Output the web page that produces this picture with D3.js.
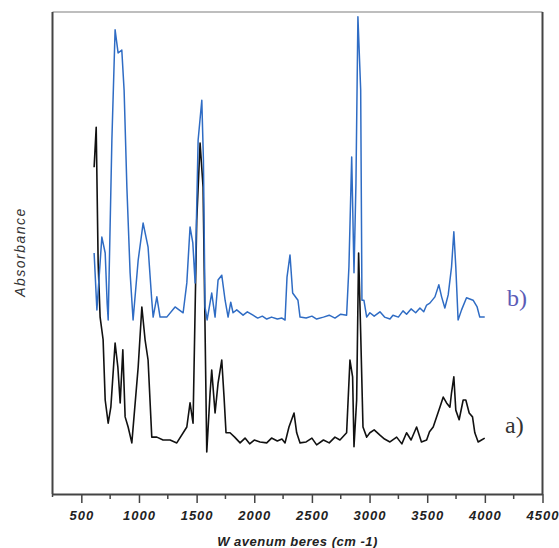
<!DOCTYPE html>
<html>
<head>
<meta charset="utf-8">
<script src="https://cdn.jsdelivr.net/npm/d3@7"></script>
<style>
  html, body { margin: 0; padding: 0; background: #fff; }
  svg { display: block; }
</style>
</head>
<body>
<svg id="chart" width="559" height="548"></svg>
<script>
// ---- Data ----
const xTickValues = [500, 1000, 1500, 2000, 2500, 3000, 3500, 4000, 4500];
const xMinorTicks = [250, 750, 1250, 1750, 2250, 2750, 3250, 3750, 4250];

// Spectrum b) (blue)
const bWavenumbers = [611, 635, 678, 707, 724, 733, 765, 793, 819, 851, 871, 895, 923, 949, 993, 1036, 1079, 1111, 1123, 1155, 1183, 1241, 1313, 1383, 1415, 1443, 1467, 1487, 1513, 1545, 1559, 1573, 1591, 1631, 1660, 1686, 1718, 1747, 1773, 1796, 1816, 1848, 1903, 1940, 1989, 2030, 2070, 2108, 2150, 2200, 2240, 2267, 2284, 2310, 2333, 2379, 2397, 2450, 2500, 2541, 2600, 2650, 2700, 2750, 2801, 2821, 2845, 2865, 2882, 2899, 2923, 2934, 2951, 2975, 3003, 3040, 3090, 3130, 3177, 3203, 3250, 3290, 3321, 3360, 3400, 3437, 3470, 3495, 3523, 3567, 3601, 3625, 3653, 3682, 3711, 3731, 3748, 3768, 3798, 3841, 3898, 3933, 3956, 3999];
const bAbsorbance = [0.500, 0.382, 0.533, 0.500, 0.396, 0.361, 0.734, 0.963, 0.915, 0.921, 0.838, 0.637, 0.459, 0.361, 0.485, 0.562, 0.512, 0.402, 0.367, 0.409, 0.367, 0.367, 0.388, 0.376, 0.438, 0.554, 0.521, 0.438, 0.734, 0.817, 0.693, 0.388, 0.361, 0.417, 0.367, 0.444, 0.454, 0.402, 0.367, 0.398, 0.376, 0.382, 0.371, 0.378, 0.371, 0.365, 0.369, 0.363, 0.367, 0.363, 0.365, 0.361, 0.450, 0.496, 0.417, 0.402, 0.367, 0.365, 0.369, 0.363, 0.367, 0.371, 0.365, 0.373, 0.371, 0.471, 0.699, 0.459, 0.645, 0.990, 0.838, 0.402, 0.402, 0.367, 0.376, 0.369, 0.378, 0.367, 0.363, 0.371, 0.367, 0.380, 0.373, 0.384, 0.376, 0.386, 0.378, 0.392, 0.396, 0.409, 0.434, 0.409, 0.386, 0.413, 0.471, 0.544, 0.471, 0.361, 0.382, 0.407, 0.402, 0.388, 0.367, 0.367];

// Spectrum a) (black)
const aWavenumbers = [611, 629, 646, 663, 689, 707, 733, 756, 793, 817, 837, 860, 880, 906, 938, 993, 1025, 1053, 1079, 1111, 1155, 1209, 1270, 1328, 1415, 1443, 1469, 1501, 1530, 1556, 1588, 1617, 1631, 1660, 1686, 1718, 1738, 1755, 1790, 1830, 1877, 1920, 1960, 2000, 2050, 2108, 2150, 2200, 2240, 2267, 2301, 2345, 2368, 2397, 2450, 2500, 2541, 2600, 2650, 2700, 2743, 2801, 2830, 2853, 2865, 2888, 2905, 2923, 2943, 2975, 3003, 3040, 3090, 3130, 3177, 3235, 3280, 3321, 3360, 3408, 3450, 3495, 3520, 3552, 3610, 3639, 3668, 3697, 3711, 3731, 3748, 3777, 3812, 3835, 3864, 3893, 3913, 3942, 3971, 3999];
const aAbsorbance = [0.678, 0.761, 0.479, 0.367, 0.320, 0.195, 0.147, 0.180, 0.313, 0.263, 0.189, 0.299, 0.160, 0.139, 0.106, 0.263, 0.388, 0.320, 0.278, 0.118, 0.118, 0.112, 0.112, 0.106, 0.139, 0.189, 0.147, 0.568, 0.728, 0.637, 0.087, 0.210, 0.257, 0.168, 0.230, 0.278, 0.201, 0.127, 0.127, 0.118, 0.106, 0.116, 0.104, 0.112, 0.108, 0.106, 0.116, 0.110, 0.114, 0.106, 0.139, 0.168, 0.127, 0.106, 0.108, 0.116, 0.102, 0.112, 0.106, 0.118, 0.112, 0.127, 0.278, 0.243, 0.098, 0.195, 0.500, 0.334, 0.139, 0.118, 0.127, 0.133, 0.122, 0.114, 0.108, 0.118, 0.104, 0.127, 0.112, 0.139, 0.108, 0.112, 0.129, 0.139, 0.180, 0.201, 0.189, 0.180, 0.210, 0.243, 0.174, 0.154, 0.195, 0.195, 0.168, 0.160, 0.127, 0.108, 0.112, 0.116];

const seriesLabels = ["b)", "a)"];

// ---- Layout ----
const svg = d3.select("#chart");
const mLeft = 52.5, mRight = 542.5, mTop = 12, mBottom = 494;

const x = d3.scaleLinear().domain([250, 4500]).range([mLeft, mRight]);
const y = d3.scaleLinear().domain([0, 1]).range([mBottom, mTop]);

// Frame: top (light), right (dark)
svg.append("line").attr("x1", mLeft).attr("x2", mRight).attr("y1", mTop).attr("y2", mTop)
  .attr("stroke", "#a8a8a8").attr("stroke-width", 1.5);
svg.append("line").attr("x1", mRight).attr("x2", mRight).attr("y1", mTop).attr("y2", mBottom)
  .attr("stroke", "#444").attr("stroke-width", 2);

// Left axis (no ticks)
svg.append("line").attr("x1", mLeft).attr("x2", mLeft).attr("y1", mTop).attr("y2", mBottom)
  .attr("stroke", "#444").attr("stroke-width", 2);

// Bottom axis
const xAxis = d3.axisBottom(x).tickValues(xTickValues).tickSize(9).tickSizeOuter(0)
  .tickFormat(d3.format("d"));
const gx = svg.append("g").attr("transform", `translate(0,${mBottom})`).call(xAxis);
gx.select(".domain").attr("stroke", "#444").attr("stroke-width", 2);
gx.selectAll(".tick line").attr("stroke", "#444").attr("stroke-width", 1.5);
gx.selectAll(".tick text")
  .attr("font-family", "Arial, 'Liberation Sans', sans-serif")
  .attr("font-size", 13).attr("font-style", "italic").attr("font-weight", 600)
  .attr("letter-spacing", "1px").attr("fill", "#222").attr("dy", "1.05em");

svg.append("g").selectAll("line").data(xMinorTicks).join("line")
  .attr("x1", d => x(d)).attr("x2", d => x(d))
  .attr("y1", mBottom).attr("y2", d => mBottom + (d === 250 ? 3 : 5))
  .attr("stroke", "#444").attr("stroke-width", 1.5);

// Axis titles
svg.append("text")
  .attr("x", (mLeft + mRight) / 2).attr("y", 546)
  .attr("text-anchor", "middle")
  .attr("font-family", "Arial, 'Liberation Sans', sans-serif")
  .attr("font-size", 13).attr("font-style", "italic").attr("font-weight", 600)
  .attr("letter-spacing", "0.5px").attr("fill", "#222")
  .text("W avenum beres (cm -1)");

svg.append("text")
  .attr("transform", "translate(25,252) rotate(-90)")
  .attr("text-anchor", "middle")
  .attr("font-family", "Arial, 'Liberation Sans', sans-serif")
  .attr("font-size", 14).attr("font-style", "italic")
  .attr("letter-spacing", "1.5px").attr("fill", "#333")
  .text("Absorbance");

// Spectra
const line = d3.line().x(d => x(d[0])).y(d => y(d[1]));
const bData = bWavenumbers.map((w, i) => [w, bAbsorbance[i]]);
const aData = aWavenumbers.map((w, i) => [w, aAbsorbance[i]]);

svg.append("path").datum(aData).attr("d", line)
  .attr("fill", "none").attr("stroke", "#111").attr("stroke-width", 1.6)
  .attr("stroke-linejoin", "round");
svg.append("path").datum(bData).attr("d", line)
  .attr("fill", "none").attr("stroke", "#2f6cc4").attr("stroke-width", 1.5)
  .attr("stroke-linejoin", "round");

// Series labels
svg.append("text").attr("x", 507).attr("y", 306)
  .attr("font-family", "'Liberation Serif', 'Times New Roman', serif")
  .attr("font-size", 24).attr("fill", "#5b5bb6").text(seriesLabels[0]);
svg.append("text").attr("x", 505).attr("y", 433)
  .attr("font-family", "'Liberation Serif', 'Times New Roman', serif")
  .attr("font-size", 24).attr("fill", "#333").text(seriesLabels[1]);
</script>
</body>
</html>
